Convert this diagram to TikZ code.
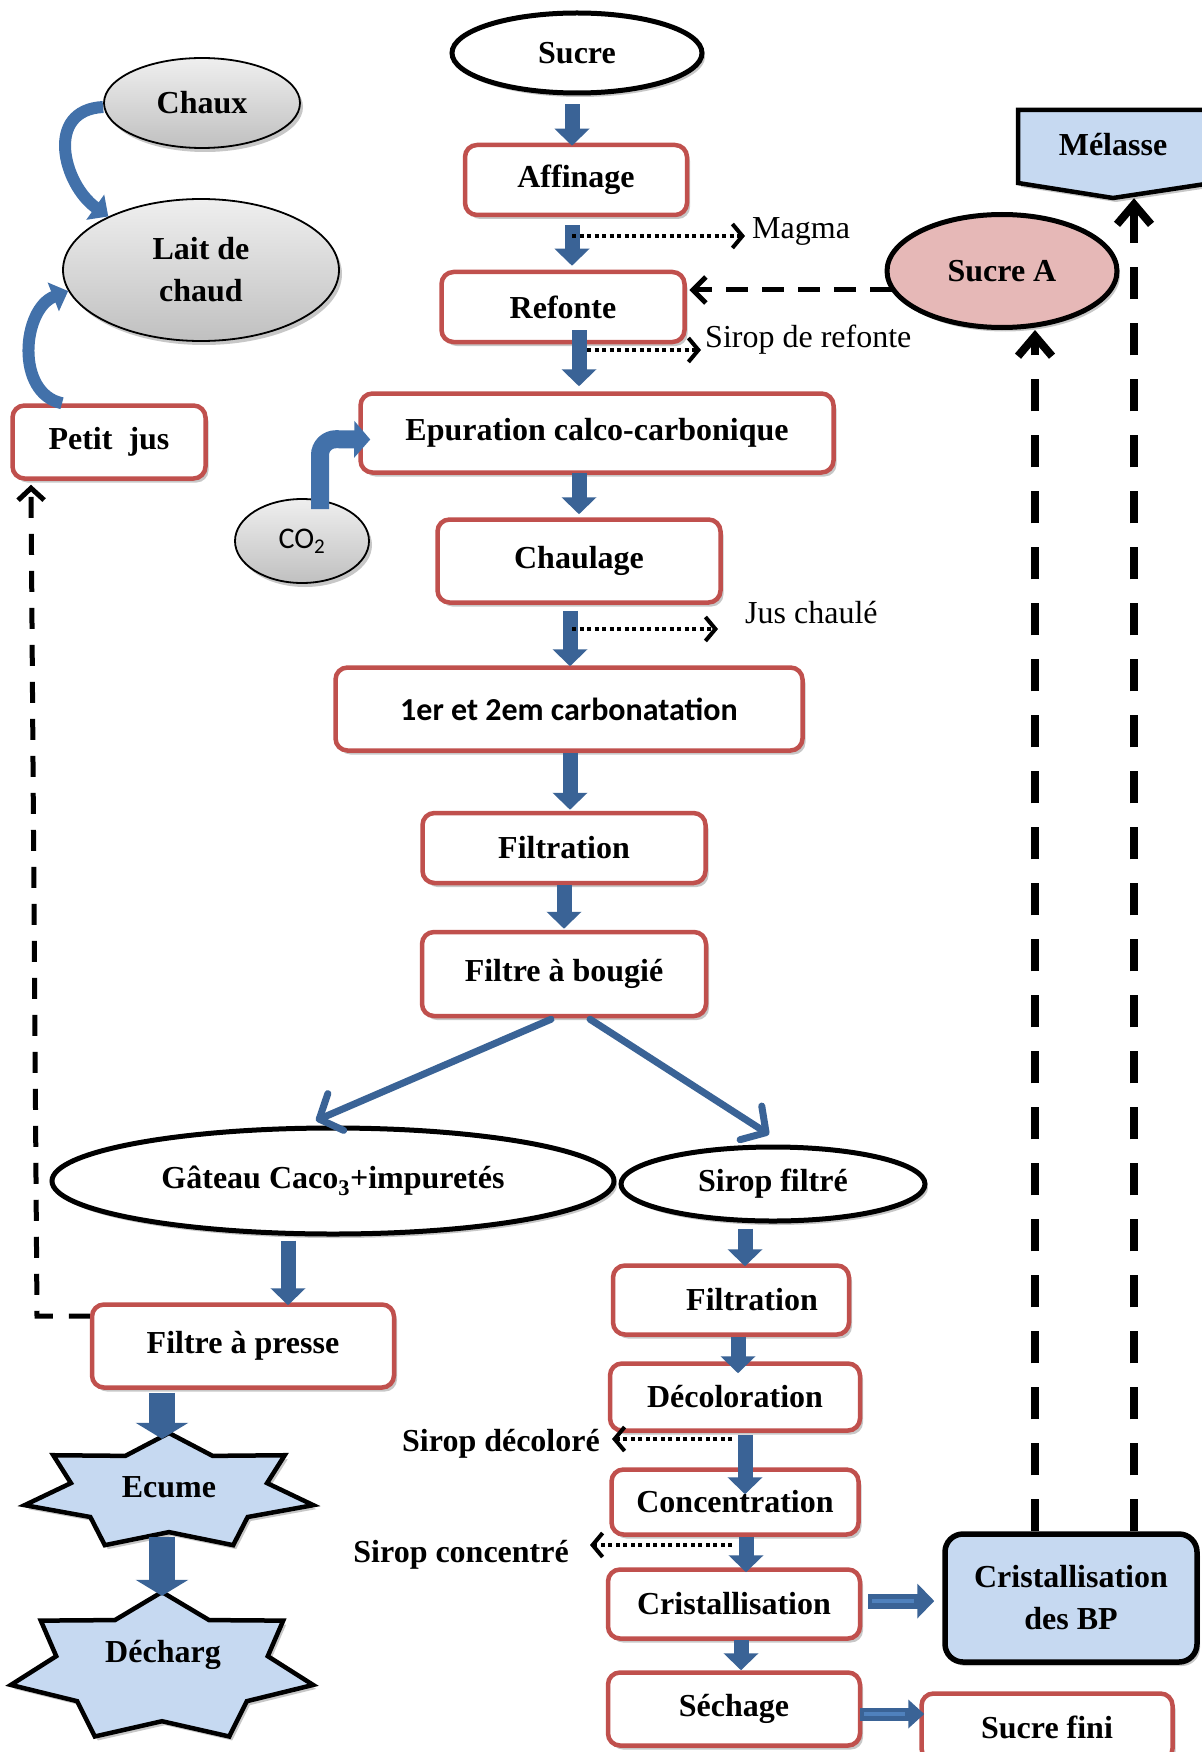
\documentclass[tikz,border=0pt]{standalone}
\usepackage{fontspec}
\setmainfont{Liberation Serif}
\newfontfamily\calib{Carlito}
\usetikzlibrary{shapes.geometric,arrows.meta,shadows,calc}

\definecolor{boxred}{HTML}{C0504D}
\definecolor{arrblue}{HTML}{3A6396}
\definecolor{midblue}{HTML}{4F81BD}
\definecolor{curveblue}{HTML}{4271AA}
\definecolor{paleblue}{HTML}{C6D9F1}
\definecolor{sucrepink}{HTML}{E6B8B7}
\definecolor{gtop}{HTML}{EFEFEF}
\definecolor{gbot}{HTML}{C0C0C0}

\newcommand{\sevstar}[6]{%
  \draw[#1, shift={#2}] (-90:#3 and #4)
    -- (-64.29:#5 and #6) -- (-38.57:#3 and #4)
    -- (-12.86:#5 and #6) -- (12.86:#3 and #4)
    -- (38.57:#5 and #6) -- (64.29:#3 and #4)
    -- (90:#5 and #6) -- (115.71:#3 and #4)
    -- (141.43:#5 and #6) -- (167.14:#3 and #4)
    -- (192.86:#5 and #6) -- (218.57:#3 and #4)
    -- (244.29:#5 and #6) -- cycle;}

\tikzset{
  big/.style={font=\bfseries\fontsize{32}{42}\selectfont},
  reg/.style={font=\fontsize{32}{38}\selectfont},
  sz/.style n args={2}{minimum width=#1pt, minimum height=#2pt},
  shad/.style={drop shadow={shadow xshift=3pt, shadow yshift=-4pt, fill=black, opacity=0.22}},
  redbox/.style={big, draw=boxred, line width=4.5pt, rounded corners=12pt, fill=white, inner sep=0pt, shad},
  bigell/.style={big, ellipse, draw=black, line width=5pt, fill=white, inner sep=0pt, shad},
  grayell/.style={big, ellipse, draw=black, line width=1.8pt, top color=gtop, bottom color=gbot, inner sep=0pt, shad},
  starsty/.style={draw=black, line width=4.5pt, fill=paleblue, line join=miter, shad},
  melsty/.style={draw=black, line width=4.5pt, fill=paleblue, line join=miter, shad},
  lbl/.style={inner sep=0pt},
  blk/.style={draw=arrblue, line width=15pt, -{Triangle[width=34pt,length=17pt]}},
  wide/.style={draw=arrblue, line width=26pt, -{Triangle[width=52pt,length=16pt]}},
  diag/.style={draw=arrblue, line width=7pt, line cap=round, -{Straight Barb[length=18pt,width=40pt,round]}},
  curv/.style={draw=curveblue, line width=12pt, -{Triangle[width=30pt,length=16pt]}},
  co2arr/.style={draw=curveblue, line width=18pt, rounded corners=16pt, -{Triangle[width=36pt,length=16pt]}},
  dotarr/.style={draw=black, line width=4pt, dash pattern=on 4pt off 3.5pt, -{Straight Barb[length=10pt,width=24pt]}},
  dasharr/.style={draw=black, line width=5pt, dash pattern=on 22pt off 14pt, -{Straight Barb[length=13pt,width=26pt]}},
  vdash/.style={draw=black, line width=8pt, dash pattern=on 32pt off 24pt, -{Straight Barb[length=20pt,width=34pt]}},
  pjdash/.style={draw=black, line width=5pt, dash pattern=on 21pt off 16pt, -{Straight Barb[length=12pt,width=26pt]}},
}

\begin{document}
\begin{tikzpicture}[x=1pt,y=-1pt]
\fill[white] (0,0) rectangle (1201,1752);
\useasboundingbox (0,0) rectangle (1201,1752);

% ---- shapes drawn as paths ----
\draw[melsty] (1018,110) -- (1212,110) -- (1212,183) -- (1113,198) -- (1018,183) -- cycle;
\sevstar{starsty}{(169,1492)}{148}{59}{100.6}{40.1}
\sevstar{starsty}{(162,1668)}{155}{76}{108.5}{53.2}

% ---- main column ----
\node[bigell, sz={250}{80}] (sucre) at (577,53) {Sucre};
\node[redbox, sz={222}{70}] (affinage) at (576,180) {Affinage};
\node[redbox, sz={243}{70}] (refonte) at (563,307) {Refonte};
\node[redbox, sz={473}{79}] (epur) at (597,433) {Epuration calco-carbonique};
\node[redbox, sz={283}{83}] (chaulage) at (579,561) {Chaulage};
\node[redbox, sz={467}{83}, font=\calib\bfseries\fontsize{32}{38}\selectfont] (carbo) at (569,709) {1er et 2em carbonatation};
\node[redbox, sz={283}{70}] (filt1) at (564,848) {Filtration};
\node[redbox, sz={284}{84}] (bougie) at (564,974) {Filtre à bougié};
\node[bigell, sz={562}{106}] (gateau) at (333,1181) {Gâteau Caco\textsubscript{3}+impuretés};
\node[bigell, sz={304}{74}] (siropf) at (773,1184) {Sirop filtré};
\node[redbox, sz={302}{83}] (presse) at (243,1346) {Filtre à presse};
\node[redbox, sz={236}{69}] (filt2) at (731,1300) {\hspace*{42pt}Filtration};
\node[redbox, sz={250}{67}] (decol) at (735,1397) {Décoloration};
\node[redbox, sz={247}{65}] (concen) at (735,1502) {Concentration};
\node[redbox, sz={252}{69}] (crist) at (734,1604) {Cristallisation};
\node[redbox, sz={252}{73}] (sechage) at (734,1709) {Séchage};
\node[redbox, sz={251}{67}] (sucrefini) at (1047,1727) {Sucre fini};
\node[big, draw=black, line width=5.5pt, fill=paleblue, rounded corners=18pt, inner sep=0pt, sz={252}{128}, align=center, shad] (bp) at (1071,1598) {Cristallisation\\des BP};

% ---- right / left side ----
\node[bigell, fill=sucrepink, sz={230}{113}] (sucreA) at (1002,271) {Sucre A};
\node[big, lbl, sz={190}{106}] (melasse) at (1113,145) {Mélasse};
\node[grayell, sz={196}{90}] (chaux) at (202,103) {Chaux};
\node[grayell, sz={276}{142}, align=center] (lait) at (201,270) {Lait de\\chaud};
\node[redbox, sz={193}{73}] (pjus) at (109,442) {Petit~ jus};
\node[grayell, sz={134}{84}, font=\calib\fontsize{30}{36}\selectfont] (co2) at (302,541) {CO\textsubscript{2}};
\node[big, lbl, sz={296}{118}] (ecume) at (169,1487) {Ecume};
\node[big, lbl, sz={300}{152}] (decharg) at (163,1655) {Décharg};

% ---- side labels ----
\node[reg, lbl, anchor=base west] (magma) at (752,239) {Magma};
\node[reg, lbl, anchor=base west] (srefonte) at (705,347) {Sirop de refonte};
\node[reg, lbl, anchor=base west] (jus) at (745,623) {Jus chaulé};
\node[big, lbl, anchor=base east] (sdecol) at (600,1451) {Sirop décoloré};
\node[big, lbl, anchor=base east] (sconc) at (569,1562) {Sirop concentré};

% ---- blue block arrows ----
\draw[blk] ($(sucre.south -| 572,0)+(0,9)$) -- ($(affinage.north -| 572,0)+(0,3)$);
\draw[blk] ($(affinage.south -| 572,0)+(0,8)$) -- ($(refonte.north -| 572,0)+(0,-4)$);
\draw[blk] ($(refonte.south -| 579,0)+(0,-14)$) -- ($(epur.north -| 579,0)+(0,-5)$);
\draw[blk] ($(epur.south -| 579,0)+(0,-2)$) -- ($(chaulage.north -| 579,0)+(0,-3)$);
\draw[blk] ($(chaulage.south -| 570,0)+(0,6)$) -- ($(carbo.north -| 570,0)+(0,1)$);
\draw[blk] ($(carbo.south -| 570,0)+(0,0)$) -- ($(filt1.north -| 570,0)+(0,-1)$);
\draw[blk] ($(filt1.south -| 564,0)+(0,0)$) -- ($(bougie.north -| 564,0)+(0,-1)$);
\draw[blk] ($(gateau.south -| 288,0)+(0,4)$) -- ($(presse.north -| 288,0)+(0,3)$);
\draw[blk] ($(siropf.south -| 745,0)+(0,5)$) -- ($(filt2.north -| 745,0)+(0,3)$);
\draw[blk] ($(filt2.south -| 738,0)+(0,0)$) -- ($(decol.north -| 738,0)+(0,12)$);
\draw[blk] ($(decol.south -| 745,0)+(0,2)$) -- ($(concen.north -| 745,0)+(0,27)$);
\draw[blk] ($(concen.south -| 746,0)+(0,0)$) -- ($(crist.north -| 746,0)+(0,5)$);
\draw[blk] ($(crist.south -| 741,0)+(0,-1)$) -- ($(sechage.north -| 741,0)+(0,0)$);

\draw[wide] ($(presse.south -| 162,0)+(0,3)$) -- ($(ecume.north -| 162,0)+(0,11)$);
\draw[wide] ($(ecume.south -| 162,0)+(0,-9)$) -- ($(decharg.north -| 162,0)+(0,17)$);

\draw[diag] ($(bougie.south)+(-13,1)$) -- ($(gateau.north)+(-17,-5)$);
\draw[diag] ($(bougie.south)+(26,1)$) -- ($(siropf.north)+(-4,-10)$);

% double-line arrows
\draw[blk] ($(crist.east)+(6,-3)$) -- ($(crist.east -| bp.west)+(-8,-3)$);
\draw[midblue, line width=4pt] ($(crist.east)+(10,-3)$) -- ($(crist.east -| bp.west)+(-28,-3)$);
\draw[blk, line width=13pt, -{Triangle[width=28pt,length=16pt]}] ($(sechage.east)+(-2,5)$) -- ($(sechage.east -| sucrefini.west)+(5,5)$);
\draw[midblue, line width=3.5pt] ($(sechage.east)+(2,5)$) -- ($(sechage.east -| sucrefini.west)+(-14,5)$);

% curved arrows
\draw[curv] ($(chaux.west)+(0,4)$) .. controls +(-59,3) and +(-45,-32) .. (lait.150);
\draw[curv] ($(pjus.north)+(-47,0)$) .. controls +(-47,-10) and +(-46,18) .. (lait.189);
\draw[co2arr] ($(co2.north)+(18,11)$) -- ($(co2.north)+(18,-59)$) -- ($(epur.west)+(12,6.5)$);

% ---- dotted arrows ----
\coordinate (d1) at (572,236);
\coordinate (d2) at (587,350);
\coordinate (d3) at (572,629);
\coordinate (d4) at (732,1439);
\coordinate (d5) at (732,1545);
\draw[dotarr] (d1) -- ($(magma.west |- d1)+(-7,0)$);
\draw[dotarr] (d2) -- ($(srefonte.west |- d2)+(-4,0)$);
\draw[dotarr] (d3) -- ($(jus.west |- d3)+(-27,0)$);
\draw[dotarr] (d4) -- ($(sdecol.east |- d4)+(12,0)$);
\draw[dotarr] (d5) -- ($(sconc.east |- d5)+(21,0)$);

% ---- dashed arrows ----
\coordinate (r1) at ($(refonte.east)+(2.5,-17)$);
\draw[dasharr] ($(sucreA.west |- r1)+(7,0)$) -- (r1);
\draw[vdash] (bp.north -| 1035,0) -- (sucreA.south -| 1035,0);
\draw[vdash] (bp.north -| 1134,0) -- (melasse.south -| 1134,0);
\coordinate (pj) at ($(presse.west)+(0,-30)$);
\coordinate (pjc) at (37,1316);
\draw[pjdash] (pj) -- (pjc) -- ($(pjus.south -| 31,0)+(0,4)$);
\end{tikzpicture}
\end{document}
